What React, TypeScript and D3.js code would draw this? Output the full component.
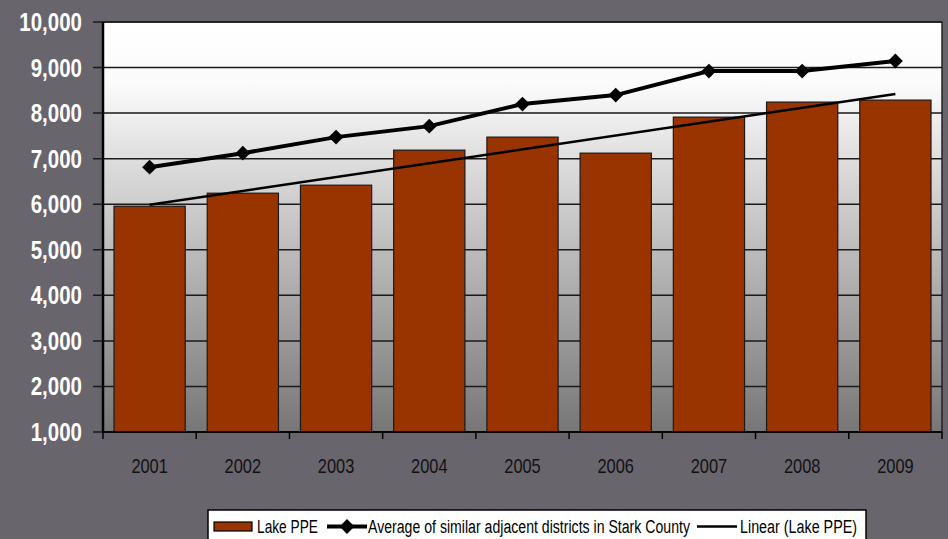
import React from "react";
import * as d3 from "d3";

const years = ["2001", "2002", "2003", "2004", "2005", "2006", "2007", "2008", "2009"];
const lakePPE = [5956, 6242, 6418, 7187, 7473, 7121, 7912, 8242, 8286];
const avgAdjacent = [6813, 7121, 7473, 7714, 8198, 8396, 8923, 8923, 9143];
const yTicks = [1000, 2000, 3000, 4000, 5000, 6000, 7000, 8000, 9000, 10000];
const legendLabels = ["Lake PPE", "Average of similar adjacent districts in Stark County", "Linear (Lake PPE)"];

const W = 948;
const H = 539;
const plot = { left: 103, right: 942, top: 22, bottom: 432 };
const FONT = "'Liberation Sans', Arial, sans-serif";
const NARROW = 0.82;

function NText(props: {
  x: number;
  y: number;
  size: number;
  fill: string;
  anchor?: "start" | "middle" | "end";
  children: string;
  width?: number;
  weight?: string;
}) {
  const { x, y, size, fill, anchor = "start", children, width, weight } = props;
  return (
    <text
      transform={`translate(${x},${y}) scale(${NARROW},1)`}
      dy="0.36em"
      textAnchor={anchor}
      fill={fill}
      fontSize={size}
      fontWeight={weight}
      textLength={width ? width / NARROW : undefined}
      lengthAdjust={width ? "spacingAndGlyphs" : undefined}
    >
      {children}
    </text>
  );
}

export default function App() {
  const x = d3.scaleBand<string>().domain(years).range([plot.left, plot.right]).paddingInner(0).paddingOuter(0);
  const y = d3.scaleLinear().domain([1000, 10000]).range([plot.bottom, plot.top]);
  const bw = x.bandwidth();
  const barW = bw * 0.764;
  const cx = (yr: string) => (x(yr) as number) + bw / 2;

  // linear regression on Lake PPE
  const xs = years.map((_, i) => i + 1);
  const mx = d3.mean(xs) as number;
  const my = d3.mean(lakePPE) as number;
  const slope =
    d3.sum(xs.map((xi, i) => (xi - mx) * (lakePPE[i] - my))) / d3.sum(xs.map((xi) => (xi - mx) ** 2));
  const intercept = my - slope * mx;
  const trend = [1, years.length].map((xi) => [cx(years[xi - 1]), y(intercept + slope * xi)] as [number, number]);

  const line = d3.line<number>().x((_, i) => cx(years[i])).y((d) => y(d));
  const diamond = d3.symbol().type(d3.symbolSquare).size(110)() as string;

  return (
    <svg width={W} height={H} style={{ position: "fixed", left: 0, top: 0 }} fontFamily={FONT}>
      <defs>
        <linearGradient id="bg" x1="0" y1="0" x2="0" y2="1">
          <stop offset="0" stopColor="#ffffff" />
          <stop offset="0.15" stopColor="#fbfbfb" />
          <stop offset="1" stopColor="#767676" />
        </linearGradient>
      </defs>
      <rect x={0} y={0} width={W} height={H} fill="#69656d" />
      <rect
        x={plot.left}
        y={plot.top}
        width={plot.right - plot.left}
        height={plot.bottom - plot.top}
        fill="url(#bg)"
        stroke="#222"
        strokeWidth={1.5}
      />
      {/* gridlines + y ticks */}
      {yTicks.map((t) => (
        <g key={t}>
          <line x1={plot.left - 10} x2={plot.right} y1={y(t)} y2={y(t)} stroke="#1a1a1a" strokeWidth={1.5} />
          <NText x={82} y={y(t)} anchor="end" fill="#ffffff" size={25} weight="bold">
            {d3.format(",")(t)}
          </NText>
        </g>
      ))}
      {/* bars */}
      {years.map((yr, i) => (
        <rect
          key={yr}
          x={cx(yr) - barW / 2}
          y={y(lakePPE[i])}
          width={barW}
          height={y(1000) - y(lakePPE[i])}
          fill="#993300"
          stroke="#1a1a1a"
          strokeWidth={1.2}
        />
      ))}
      {/* axes */}
      <line x1={plot.left} x2={plot.left} y1={plot.top} y2={plot.bottom} stroke="#000" strokeWidth={2.5} />
      <line x1={plot.left} x2={plot.right} y1={plot.bottom} y2={plot.bottom} stroke="#000" strokeWidth={1.5} />
      {years.map((yr) => (
        <line key={"t" + yr} x1={x(yr) as number} x2={x(yr) as number} y1={plot.bottom} y2={plot.bottom + 7} stroke="#000" strokeWidth={1.5} />
      ))}
      <line x1={plot.right} x2={plot.right} y1={plot.bottom} y2={plot.bottom + 7} stroke="#000" strokeWidth={1.5} />
      {years.map((yr) => (
        <NText key={"l" + yr} x={cx(yr)} y={466} anchor="middle" fill="#111" size={20}>
          {yr}
        </NText>
      ))}
      {/* trend line */}
      <line x1={trend[0][0]} y1={trend[0][1]} x2={trend[1][0]} y2={trend[1][1]} stroke="#000" strokeWidth={2.5} />
      {/* average line */}
      <path d={line(avgAdjacent) as string} fill="none" stroke="#000" strokeWidth={4} />
      {avgAdjacent.map((v, i) => (
        <path key={"d" + i} d={diamond} transform={`translate(${cx(years[i])},${y(v)}) rotate(45)`} fill="#000" />
      ))}
      {/* legend */}
      <rect x={208} y={510} width={658} height={40} fill="#fff" stroke="#000" strokeWidth={1.5} />
      <rect x={214} y={522} width={38} height={9} fill="#993300" stroke="#000" strokeWidth={1.2} />
      <NText x={257} y={526.5} size={19} fill="#000" width={61}>{legendLabels[0]}</NText>
      <line x1={327} x2={367} y1={526.5} y2={526.5} stroke="#000" strokeWidth={4} />
      <path d={diamond} transform="translate(347,526.5) rotate(45)" fill="#000" />
      <NText x={368} y={526.5} size={19} fill="#000" width={322}>{legendLabels[1]}</NText>
      <line x1={697} x2={737} y1={526.5} y2={526.5} stroke="#000" strokeWidth={2.5} />
      <NText x={740} y={526.5} size={19} fill="#000" width={117}>{legendLabels[2]}</NText>
    </svg>
  );
}
